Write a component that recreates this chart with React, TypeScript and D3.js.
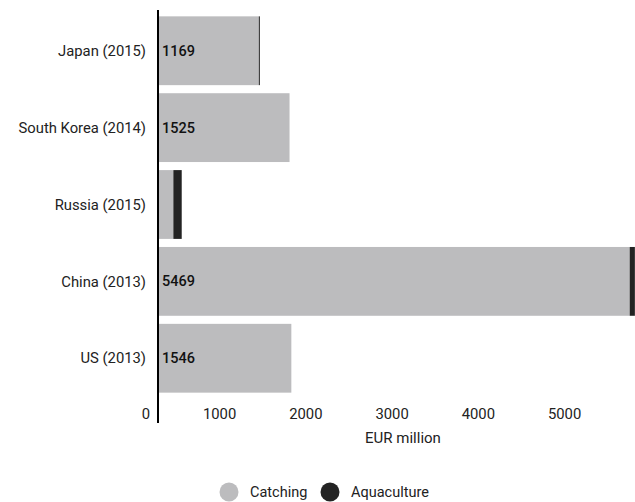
import React from "react";
import * as d3 from "d3";

const categories = ["Japan (2015)", "South Korea (2014)", "Russia (2015)", "China (2013)", "US (2013)"];
const catching = [1169, 1525, 178, 5469, 1546];
const aquaculture = [12, 0, 97, 60, 0];
const valueLabels = ["1169", "1525", "", "5469", "1546"];
const xTicks = [0, 1000, 2000, 3000, 4000, 5000];
const seriesNames = ["Catching", "Aquaculture"];
const colors = ["#bcbcbe", "#232323"];

const W = 635;
const H = 502;

export default function App() {
  const x = d3.scaleLinear().domain([0, 1000]).range([158, 244.25]);
  const y = d3.scaleBand<string>().domain(categories).range([12.5, 396.5]).paddingInner(0.105).paddingOuter(0.05);
  const bw = y.bandwidth();
  const font = "Roboto, 'Noto Sans', sans-serif";

  return (
    <svg width={W} height={H} style={{ position: "absolute", left: 0, top: 0, background: "#fff" }}>
      {categories.map((c, i) => {
        const y0 = y(c)!;
        return (
          <g key={c}>
            <rect x={x(0)} y={y0} width={x(catching[i]) - x(0)} height={bw} fill={colors[0]} />
            {aquaculture[i] > 0 && (
              <rect x={x(catching[i])} y={y0} width={x(catching[i] + aquaculture[i]) - x(catching[i])} height={bw} fill={colors[1]} />
            )}
            <text x={146} y={y0 + bw / 2} dy="0.35em" textAnchor="end" fontFamily={font} fontWeight={400} fontSize={14.8} fill="#222">
              {c}
            </text>
            {valueLabels[i] && (
              <text x={162} y={y0 + bw / 2} dy="0.35em" fontFamily={font} fontWeight={500} fontSize={14.5} fill="#111">
                {valueLabels[i]}
              </text>
            )}
          </g>
        );
      })}
      <line x1={x(0)} x2={x(0)} y1={10} y2={423} stroke="#000" strokeWidth={2} />
      {xTicks.map((t) => (
        <text key={t} x={x(t) - 8} y={414} dy="0.35em" textAnchor="end" fontFamily={font} fontWeight={400} fontSize={14.8} fill="#222">
          {t}
        </text>
      ))}
      <text x={403} y={438} dy="0.35em" textAnchor="middle" fontFamily={font} fontSize={15} fill="#222">
        EUR million
      </text>
      {seriesNames.map((s, i) => {
        const cx = i === 0 ? 229 : 330;
        return (
          <g key={s}>
            <circle cx={cx} cy={492} r={9.5} fill={colors[i]} />
            <text x={cx + 21} y={492} dy="0.35em" fontFamily={font} fontWeight={400} fontSize={14.5} fill="#222">
              {s}
            </text>
          </g>
        );
      })}
    </svg>
  );
}
